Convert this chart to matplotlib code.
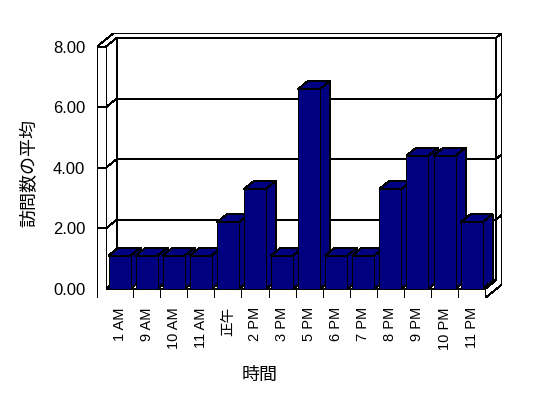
import matplotlib
matplotlib.use("Agg")
import matplotlib.pyplot as plt
from matplotlib.patches import Polygon

plt.rcParams['font.family'] = ['Liberation Sans', 'Noto Sans CJK JP']

# data
hours = ['1 AM', '9 AM', '10 AM', '11 AM', '正午', '2 PM', '3 PM',
         '5 PM', '6 PM', '7 PM', '8 PM', '9 PM', '10 PM', '11 PM']
avg_visits = [1.1, 1.1, 1.1, 1.1, 2.2, 3.3, 1.1, 6.6, 1.1, 1.1, 3.3, 4.4, 4.4, 2.2]
y_ticks = [0, 2, 4, 6, 8]

bar_color = '#000080'

# fake 3d: depth vector in data units
DX, DY = 0.389, 0.28
X0, X1 = -0.5, len(hours) - 0.5
WALL = 0.333      # left wall thickness (x units)
FLOOR = 0.3       # floor thickness (value units)
BACK = 1.6        # outer depth of back wall
YMAX = y_ticks[-1]
HW = 0.407        # half bar width
BD = 0.95         # bar depth


def P(x, v, d):
    return (x + d * DX, v + d * DY)


fig = plt.figure(figsize=(5.48, 3.98), dpi=100)
ax = fig.add_axes([97 / 548, 100 / 398, 405 / 548, 265 / 398])
ax.set_xlim(X0 - WALL, X1 + BACK * DX)
ax.set_ylim(-FLOOR, YMAX + BACK * DY)
for s in ax.spines.values():
    s.set_visible(False)

lw = 0.72
wall_kw = dict(facecolor='white', edgecolor='black', lw=lw, zorder=1,
               joinstyle='miter', antialiased=False)
line_kw = dict(color='black', lw=lw, zorder=1.5, antialiased=False)

# back wall front face
ax.add_patch(Polygon([P(X0, 0, 1), P(X1, 0, 1), P(X1, YMAX, 1), P(X0, YMAX, 1)], **wall_kw))
# top strip of walls
ax.add_patch(Polygon([P(X0 - WALL, YMAX, 0), P(X0 - WALL, YMAX, BACK), P(X1, YMAX, BACK),
                      P(X1, YMAX, 1), P(X0, YMAX, 1), P(X0, YMAX, 0)], **wall_kw))
# right edge of back wall + floor
ax.add_patch(Polygon([P(X1, 0, 1), P(X1, YMAX, 1), P(X1, YMAX, BACK), P(X1, -FLOOR, BACK),
                      P(X1, -FLOOR, 0), P(X1, 0, 0)], **wall_kw))
# left wall inner face
ax.add_patch(Polygon([P(X0, 0, 0), P(X0, YMAX, 0), P(X0, YMAX, 1), P(X0, 0, 1)], **wall_kw))
# floor top
ax.add_patch(Polygon([P(X0, 0, 0), P(X1, 0, 0), P(X1, 0, 1), P(X0, 0, 1)], **wall_kw))
# front face of left wall and floor
ax.add_patch(Polygon([P(X0 - WALL, -FLOOR, 0), P(X0 - WALL, YMAX, 0), P(X0, YMAX, 0),
                      P(X0, 0, 0), P(X1, 0, 0), P(X1, -FLOOR, 0)], **wall_kw))

# gridlines
for v in y_ticks[1:-1]:
    pts = [P(X0 - WALL, v, 0), P(X0, v, 0), P(X0, v, 1), P(X1, v, 1), P(X1, v, BACK)]
    ax.plot([p[0] for p in pts], [p[1] for p in pts], **line_kw)

# category separators on the floor front
for k in range(len(hours) - 1):
    ax.plot([k + 0.5, k + 0.5], [-FLOOR, 0], **line_kw)

# bars
bars = ax.bar(range(len(hours)), avg_visits, width=2 * HW, color=bar_color,
              edgecolor='black', lw=lw, antialiased=False)
for i, (rect, v) in enumerate(zip(bars, avg_visits)):
    rect.set_zorder(4 + 2 * i)
    side = [P(i + HW, 0, 0), P(i + HW, v, 0), P(i + HW, v, BD), P(i + HW, 0, BD)]
    top = [P(i - HW, v, 0), P(i + HW, v, 0), P(i + HW, v, BD), P(i - HW, v, BD)]
    for poly in (side, top):
        ax.add_patch(Polygon(poly, facecolor=bar_color, edgecolor='black', lw=lw,
                             zorder=3 + 2 * i, joinstyle='miter', antialiased=False))

ax.set_yticks(y_ticks)
ax.set_yticklabels([f'{t:.2f}' for t in y_ticks], fontsize=12)
ax.set_xticks(range(len(hours)))
ax.set_xticklabels(hours, rotation=90, fontsize=10.5)
ax.tick_params(axis='y', length=0, pad=8.5)
ax.tick_params(axis='x', length=0, pad=6.5)

fig.text(30 / 548, (398 - 173) / 398, '訪問数の平均', rotation=90,
         ha='center', va='center', fontsize=13)
fig.text(260 / 548, (398 - 375) / 398, '時間', ha='center', va='center', fontsize=13)

fig.savefig('out.png', dpi=100)
